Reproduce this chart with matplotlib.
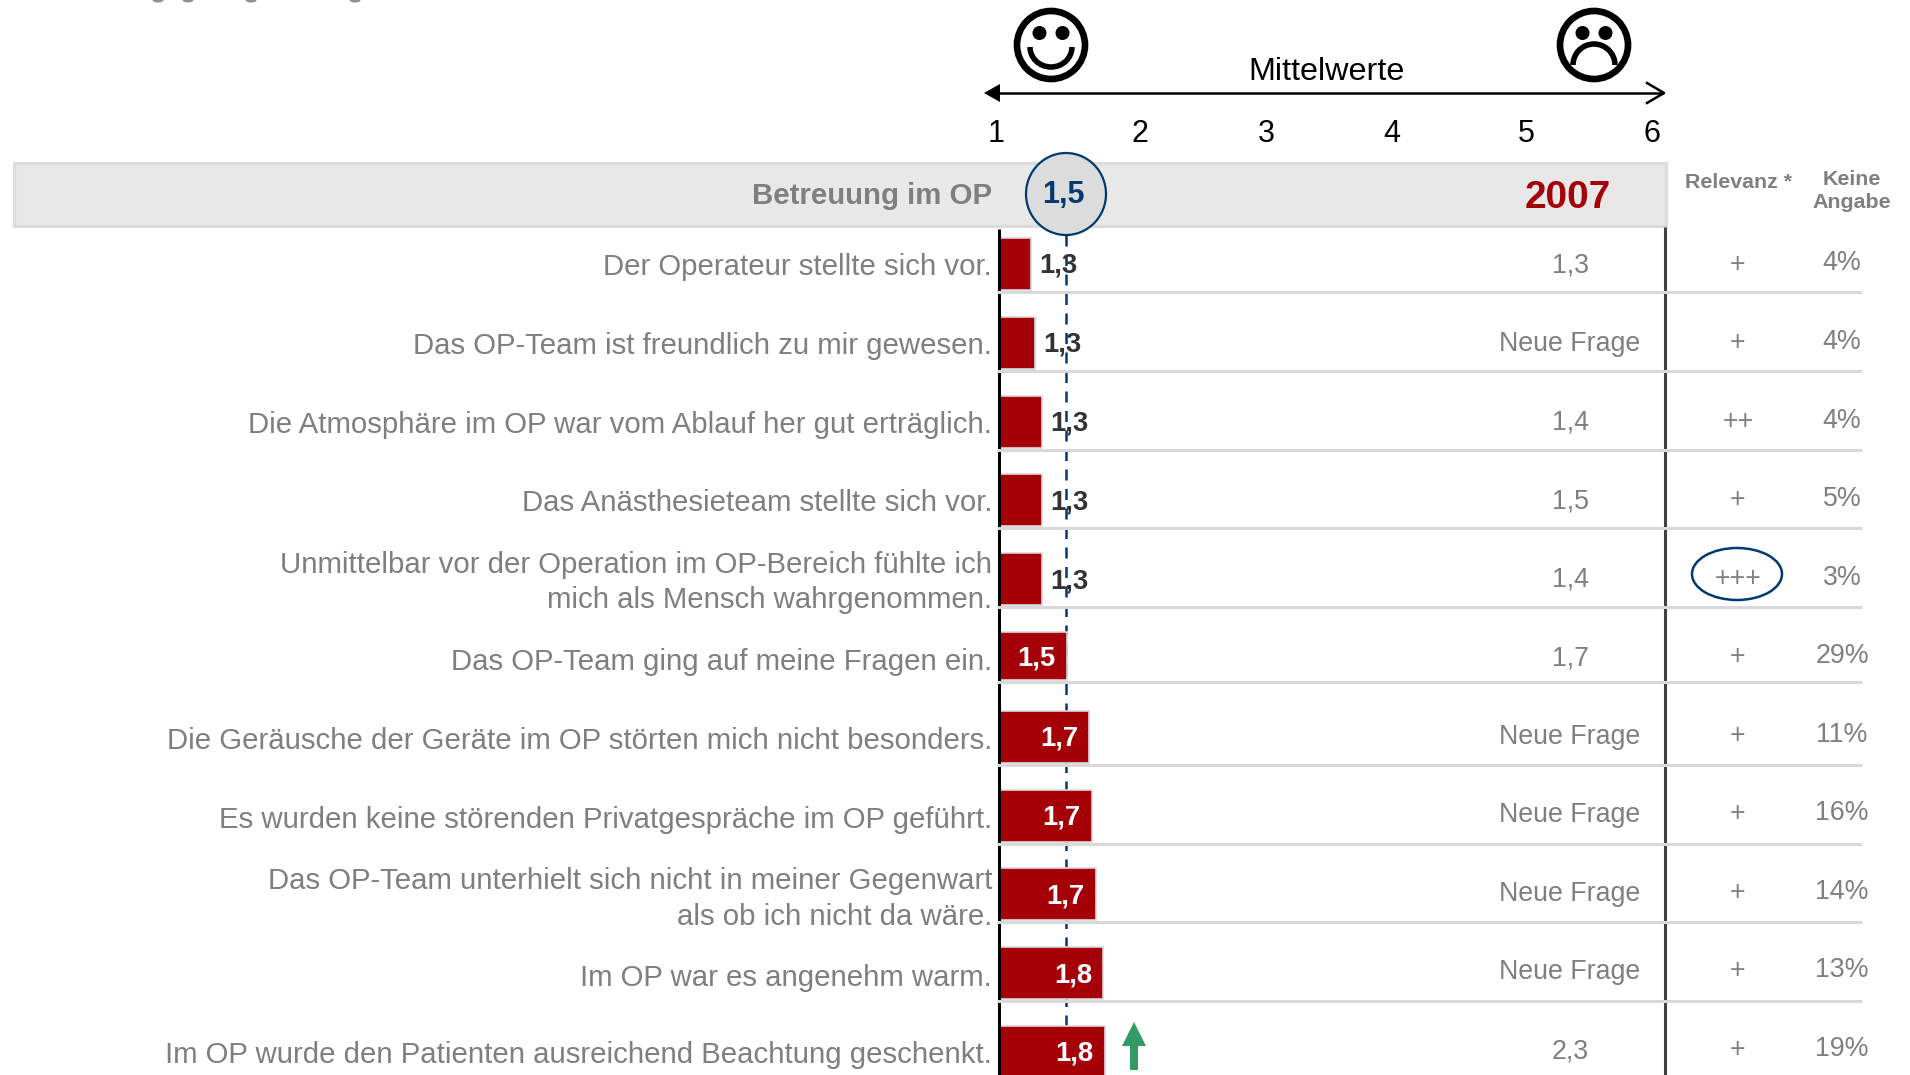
"""Betreuung im OP - Mittelwerte je Frage"""
import matplotlib
matplotlib.use('Agg')
import matplotlib.pyplot as plt
from matplotlib.patches import Arc, Circle, Ellipse, Polygon, Rectangle

plt.rcParams['font.family'] = ['Liberation Sans', 'DejaVu Sans']

# Daten
questions = [
    'Der Operateur stellte sich vor.',
    'Das OP-Team ist freundlich zu mir gewesen.',
    'Die Atmosphäre im OP war vom Ablauf her gut erträglich.',
    'Das Anästhesieteam stellte sich vor.',
    'Unmittelbar vor der Operation im OP-Bereich fühlte ich\nmich als Mensch wahrgenommen.',
    'Das OP-Team ging auf meine Fragen ein.',
    'Die Geräusche der Geräte im OP störten mich nicht besonders.',
    'Es wurden keine störenden Privatgespräche im OP geführt.',
    'Das OP-Team unterhielt sich nicht in meiner Gegenwart\nals ob ich nicht da wäre.',
    'Im OP war es angenehm warm.',
    'Im OP wurde den Patienten ausreichend Beachtung geschenkt.',
]
bar_values = [1.24, 1.27, 1.32, 1.32, 1.32, 1.51, 1.68, 1.70, 1.73, 1.79, 1.80]
value_labels = ['1,3', '1,3', '1,3', '1,3', '1,3', '1,5', '1,7', '1,7', '1,7', '1,8', '1,8']
values_2007 = ['1,3', 'Neue Frage', '1,4', '1,5', '1,4', '1,7',
               'Neue Frage', 'Neue Frage', 'Neue Frage', 'Neue Frage', '2,3']
relevance = ['+', '+', '++', '+', '+++', '+', '+', '+', '+', '+', '+']
no_answer = ['4%', '4%', '4%', '5%', '3%', '29%', '11%', '16%', '14%', '13%', '19%']
mean_value = 1.5
mean_label = '1,5'
scale_labels = ['1', '2', '3', '4', '5', '6']

# Layout in Pixeln
W, H = 1910, 1075
X0, X6 = 1000, 1655
ROW0, ROW_STEP = 264, 78.8
COL_STEP = 78.55
BAR_H = 52
GREY = '#7f7f7f'
RED = '#a50008'
NAVY = '#003a70'
LINE = '#d9d9d9'
scale_x = [996, 1140, 1266, 1392, 1526, 1652]
FS = 21.2
FS_COL = 19.3
FS_VAL = 19.8
FS_HEAD = 15.4

fig = plt.figure(figsize=(W / 100, H / 100), dpi=100, facecolor='white')

# Balken-Achse: x in Mittelwerten, y in Zeilen
ax_bar = fig.add_axes([X0 / W, 0, (X6 - X0) / W, 1])
ax_bar.set_xlim(1, 6)
ax_bar.set_ylim((H - ROW0) / ROW_STEP, -ROW0 / ROW_STEP)
ax_bar.axis('off')
rows = list(range(len(questions)))
ax_bar.plot([mean_value, mean_value], [(235 - ROW0) / ROW_STEP, (H - ROW0) / ROW_STEP],
            color=NAVY, lw=1.8, dashes=(4.4, 3.4), zorder=1)
# Zeile 6 ist im Original etwas niedriger
bar_rows = [r - 0.025 if r == 5 else r for r in rows]
bar_heights = [48 / ROW_STEP if r == 5 else BAR_H / ROW_STEP for r in rows]
ax_bar.barh(bar_rows, [v - 1 for v in bar_values], left=1, height=bar_heights,
            color=RED, edgecolor=LINE, linewidth=1.2, zorder=2)
for r, v, lab in zip(bar_rows, bar_values, value_labels):
    if v < 1.4:
        ax_bar.text(v + 27 / 131, r + 0.025, lab, color='#333333', fontsize=FS_VAL, fontweight='bold',
                    ha='center', va='center', zorder=3)
    else:
        ax_bar.text(v - 30 / 131, r + 0.025, lab, color='white', fontsize=FS_VAL, fontweight='bold',
                    ha='center', va='center', zorder=3)

# Pixel-Achse fuer alles andere
ax = fig.add_axes([0, 0, 1, 1], zorder=3)
ax.set_xlim(0, W)
ax.set_ylim(H, 0)
ax.axis('off')

# Reste des abgeschnittenen Titels am oberen Rand
for x in [158, 188, 251, 355]:
    ax.add_patch(Ellipse((x, 0), 11, 5, facecolor='#909090', edgecolor='none'))

# Kopfzeile
ax.add_patch(Rectangle((14, 163), 1652, 63, facecolor='#e8e8e8', edgecolor='#dcdcdc', lw=2.2, zorder=1))
ax.text(992, 196, 'Betreuung im OP', color=GREY, fontsize=FS, fontweight='bold', ha='right', va='center')
ax.add_patch(Ellipse((1066, 194), 80, 82, facecolor='#dcdcdc', edgecolor=NAVY, lw=1.6, zorder=2))
ax.text(1063, 195, mean_label, color=NAVY, fontsize=22, fontweight='bold', ha='center', va='center', zorder=3)
ax.text(1568, 198, '2007', color=RED, fontsize=27.9, fontweight='bold', ha='center', va='center')
ax.text(1738, 182, 'Relevanz *', color=GREY, fontsize=FS_HEAD, fontweight='bold', ha='center', va='center')
ax.text(1852, 191, 'Keine\nAngabe', color=GREY, fontsize=FS_HEAD, fontweight='bold', ha='center', va='center',
        linespacing=1.3)

# Skala oben
ax.plot([990, 1662], [93, 93], color='black', lw=1.8, zorder=2)
ax.add_patch(Polygon([[984, 93], [1000, 84], [1000, 102]], facecolor='black', edgecolor='none'))
ax.plot([1647, 1664, 1647], [83, 93, 103], color='black', lw=1.8)
ax.text(1327, 72, 'Mittelwerte', color='black', fontsize=23.3, ha='center', va='center')
for x, lab in zip(scale_x, scale_labels):
    ax.text(x, 134, lab, color='black', fontsize=22, ha='center', va='center')

# Smileys
for cx, happy in [(1051, True), (1594, False)]:
    ax.add_patch(Circle((cx, 45), 34, facecolor='white', edgecolor='black', lw=4.8))
    ax.add_patch(Circle((cx - 11.5, 33), 7, facecolor='black', edgecolor='none'))
    ax.add_patch(Circle((cx + 11.5, 33), 7, facecolor='black', edgecolor='none'))
    if happy:
        ax.add_patch(Arc((cx, 47), 42, 40, theta1=0, theta2=180, color='black', lw=4))
    else:
        ax.add_patch(Arc((cx, 65), 42, 42, theta1=180, theta2=360, color='black', lw=4))

# Linien
ax.plot([999, 999], [229, H], color='black', lw=2.2, solid_capstyle='butt', zorder=2)
ax.plot([1665, 1665], [227, H], color='#404040', lw=2.2, solid_capstyle='butt', zorder=2)
for r in rows[:-1]:
    y = ROW0 + ROW_STEP * r + (24 if r == 5 else 28)
    ax.plot([997, 1862], [y, y], color=LINE, lw=2.2, solid_capstyle='butt', zorder=3)

# Textspalten
for r, q, v07, rel, na in zip(rows, questions, values_2007, relevance, no_answer):
    y = ROW0 + ROW_STEP * r
    y_col = ROW0 + COL_STEP * r
    ax.text(992, y + (4.5 if 5 <= r <= 9 else 3), q, color=GREY, fontsize=FS, ha='right', va='center',
            linespacing=1.33)
    ax.text(1570, y_col + 1.5, v07, color=GREY, fontsize=FS_COL, ha='center', va='center')
    ax.text(1738, y_col + 0.5, rel, color=GREY, fontsize=FS_COL, ha='center', va='center')
    ax.text(1842, y_col - 0.5, na, color=GREY, fontsize=FS_COL, ha='center', va='center')

# Markierung und Pfeil
ax.add_patch(Ellipse((1737, 574), 90, 52, facecolor='none', edgecolor=NAVY, lw=1.8))
ax.add_patch(Polygon([[1134, 1022], [1146, 1046], [1138, 1046], [1138, 1070], [1130, 1070],
                      [1130, 1046], [1122, 1046]], facecolor='#339966', edgecolor='none'))

fig.savefig('out.png', dpi=100, facecolor='white')
plt.close(fig)
